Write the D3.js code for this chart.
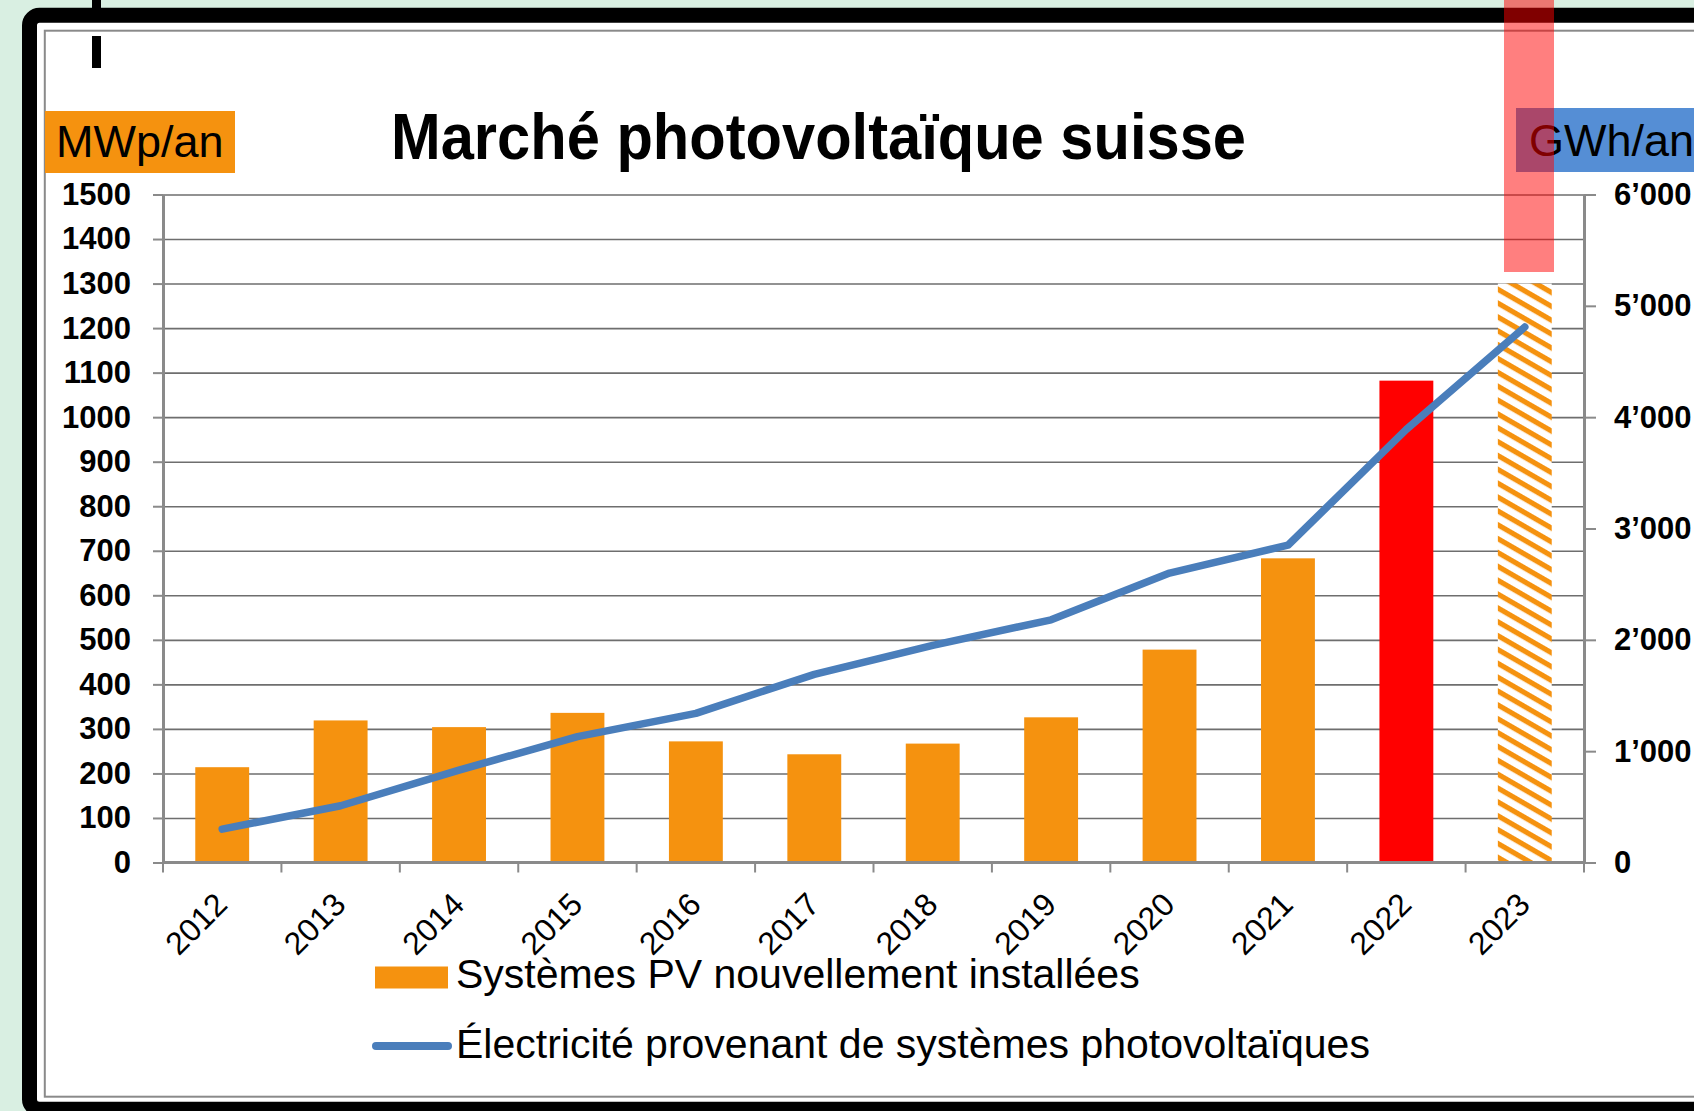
<!DOCTYPE html>
<html>
<head>
<meta charset="utf-8">
<script src="https://cdn.jsdelivr.net/npm/d3@7/dist/d3.min.js"></script>
<style>
  html, body { margin: 0; padding: 0; background: #d9efe2; overflow: hidden; }
  svg { display: block; font-family: 'Liberation Sans', Arial, sans-serif; }
</style>
</head>
<body>
<script>
/* global d3 */

const years = ['2012', '2013', '2014', '2015', '2016', '2017', '2018', '2019', '2020', '2021', '2022', '2023'];

// newly installed PV systems, MWp/an (left axis)
const installedMW = [214, 319, 304, 336, 272, 243, 267, 326, 478, 683, 1082, 1300];

// electricity from PV systems, GWh/an (right axis)
const electricityGWh = [300, 510, 830, 1130, 1340, 1690, 1950, 2180, 2600, 2850, 3890, 4810];

const leftTicks = [0, 100, 200, 300, 400, 500, 600, 700, 800, 900, 1000, 1100, 1200, 1300, 1400, 1500];
const rightTicks = [0, 1000, 2000, 3000, 4000, 5000, 6000];
const rightTickLabels = ['0', '1’000', '2’000', '3’000', '4’000', '5’000', '6’000'];

const title = 'Marché photovoltaïque suisse';
const leftUnit = 'MWp/an';
const rightUnit = 'GWh/an';
const legendLabels = ['Systèmes PV nouvellement installées', 'Électricité provenant de systèmes photovoltaïques'];

const width = 1694;
const height = 1111;

const font = "'Liberation Sans', Arial, sans-serif";
const orange = '#f5920f';
const red = '#ff0000';
const blue = '#4a7ebb';
const gridGrey = '#6e6e6e';
const axisGrey = '#8a8a8a';

const plot = { left: 163, right: 1584, top: 194.5, bottom: 862.5 };

const svg = d3.select('body')
  .append('svg')
  .attr('width', width)
  .attr('height', height);

// hatch for the 2023 estimate: orange stripes falling to the right
const defs = svg.append('defs');
const hatch = defs.append('pattern')
  .attr('id', 'hatch')
  .attr('patternUnits', 'userSpaceOnUse')
  .attr('width', 12)
  .attr('height', 12)
  .attr('patternTransform', 'rotate(30)');
hatch.append('rect').attr('width', 12).attr('height', 12).attr('fill', '#fff');
hatch.append('rect').attr('y', 3).attr('width', 12).attr('height', 5.2).attr('fill', orange);

// outer frame
svg.append('rect')
  .attr('x', 29.5).attr('y', 15.3)
  .attr('width', 2000).attr('height', 1094)
  .attr('rx', 10)
  .attr('fill', '#fff')
  .attr('stroke', '#000')
  .attr('stroke-width', 15);

svg.append('rect')
  .attr('x', 44.8).attr('y', 30.7)
  .attr('width', 2000).attr('height', 1066)
  .attr('fill', 'none')
  .attr('stroke', axisGrey)
  .attr('stroke-width', 2);

// little cursor marks at the top left
svg.append('rect').attr('x', 92).attr('y', 0).attr('width', 9).attr('height', 8).attr('fill', '#000');
svg.append('rect').attr('x', 92).attr('y', 36).attr('width', 9).attr('height', 32).attr('fill', '#000');

// unit boxes
svg.append('rect')
  .attr('x', 45).attr('y', 111)
  .attr('width', 190).attr('height', 62)
  .attr('fill', orange);
svg.append('text')
  .attr('x', 56).attr('y', 157)
  .attr('font-size', 45)
  .attr('fill', '#000')
  .text(leftUnit);

svg.append('rect')
  .attr('x', 1516).attr('y', 108)
  .attr('width', 200).attr('height', 64)
  .attr('fill', '#558ed5');
svg.append('text')
  .attr('x', 1529).attr('y', 156)
  .attr('font-size', 45)
  .attr('fill', '#000')
  .text(rightUnit);

svg.append('text')
  .attr('x', 391).attr('y', 159)
  .attr('font-size', 64)
  .attr('font-weight', 'bold')
  .attr('textLength', 855)
  .attr('lengthAdjust', 'spacingAndGlyphs')
  .text(title);

// scales
const x = d3.scaleBand()
  .domain(years)
  .range([plot.left, plot.right])
  .paddingInner(0.545)
  .paddingOuter(0.2725);

const xCat = d3.scaleBand()
  .domain(years)
  .range([plot.left, plot.right]);

const y = d3.scaleLinear().domain([0, 1500]).range([plot.bottom, plot.top]);
const y2 = d3.scaleLinear().domain([0, 6000]).range([plot.bottom, plot.top]);

// gridlines
svg.append('g')
  .attr('transform', `translate(${plot.left},0)`)
  .call(d3.axisLeft(y).tickValues(leftTicks.slice(1)).tickSize(-(plot.right - plot.left)).tickFormat(''))
  .call(g => g.select('.domain').remove())
  .call(g => g.selectAll('line').attr('stroke', gridGrey).attr('stroke-width', 1.6));

// bars
const barFill = d => (d === '2022' ? red : d === '2023' ? 'url(#hatch)' : orange);

svg.append('g')
  .selectAll('rect')
  .data(years)
  .enter().append('rect')
    .attr('x', d => x(d))
    .attr('y', (d, i) => y(installedMW[i]))
    .attr('width', x.bandwidth())
    .attr('height', (d, i) => y(0) - y(installedMW[i]))
    .attr('fill', barFill);

// left axis
svg.append('g')
  .attr('transform', `translate(${plot.left},0)`)
  .call(d3.axisLeft(y).tickValues(leftTicks).tickFormat(d3.format('d'))
    .tickSize(10).tickSizeOuter(0).tickPadding(22))
  .call(g => g.select('.domain').attr('stroke', axisGrey).attr('stroke-width', 3))
  .call(g => g.selectAll('.tick line').attr('stroke', axisGrey).attr('stroke-width', 2))
  .call(g => g.selectAll('text')
    .attr('font-family', font)
    .attr('font-size', 31)
    .attr('font-weight', 'bold')
    .attr('fill', '#000'));

// right axis
svg.append('g')
  .attr('transform', `translate(${plot.right},0)`)
  .call(d3.axisRight(y2).tickValues(rightTicks).tickFormat((d, i) => rightTickLabels[i])
    .tickSize(12).tickSizeOuter(0).tickPadding(18))
  .call(g => g.select('.domain').attr('stroke', axisGrey).attr('stroke-width', 3))
  .call(g => g.selectAll('.tick line').attr('stroke', axisGrey).attr('stroke-width', 2))
  .call(g => g.selectAll('text')
    .attr('font-family', font)
    .attr('font-size', 31)
    .attr('font-weight', 'bold')
    .attr('fill', '#000'));

// bottom axis: ticks between categories
const bottom = svg.append('g');
bottom.append('line')
  .attr('x1', plot.left).attr('x2', plot.right)
  .attr('y1', y(0)).attr('y2', y(0))
  .attr('stroke', axisGrey)
  .attr('stroke-width', 3);

bottom.selectAll('.sep')
  .data(years.concat(['end']))
  .enter().append('line')
    .attr('class', 'sep')
    .attr('x1', (d, i) => plot.left + i * xCat.step())
    .attr('x2', (d, i) => plot.left + i * xCat.step())
    .attr('y1', y(0))
    .attr('y2', y(0) + 10)
    .attr('stroke', axisGrey)
    .attr('stroke-width', 2);

bottom.selectAll('.year')
  .data(years)
  .enter().append('text')
    .attr('class', 'year')
    .attr('transform', d => `translate(${xCat(d) + xCat.bandwidth() / 2 + 7},${y(0) + 44}) rotate(-45)`)
    .attr('text-anchor', 'end')
    .attr('font-size', 32)
    .text(d => d);

// electricity line
const line = d3.line()
  .x((d, i) => x(years[i]) + x.bandwidth() / 2)
  .y(d => y2(d));

svg.append('path')
  .datum(electricityGWh)
  .attr('d', line)
  .attr('fill', 'none')
  .attr('stroke', blue)
  .attr('stroke-width', 7.5)
  .attr('stroke-linejoin', 'round')
  .attr('stroke-linecap', 'round');

// legend
const legend = svg.append('g');
legend.append('rect')
  .attr('x', 375).attr('y', 966.5)
  .attr('width', 73).attr('height', 22)
  .attr('fill', orange);
legend.append('text')
  .attr('x', 456).attr('y', 988)
  .attr('font-size', 41)
  .text(legendLabels[0]);

legend.append('line')
  .attr('x1', 376).attr('x2', 448)
  .attr('y1', 1046).attr('y2', 1046)
  .attr('stroke', blue)
  .attr('stroke-width', 8)
  .attr('stroke-linecap', 'round');
legend.append('text')
  .attr('x', 456).attr('y', 1058)
  .attr('font-size', 41)
  .text(legendLabels[1]);

// translucent red marker over the last column
svg.append('rect')
  .attr('x', 1504).attr('y', 0)
  .attr('width', 50).attr('height', 272)
  .attr('fill', 'rgba(255,0,0,0.5)');
</script>
</body>
</html>
